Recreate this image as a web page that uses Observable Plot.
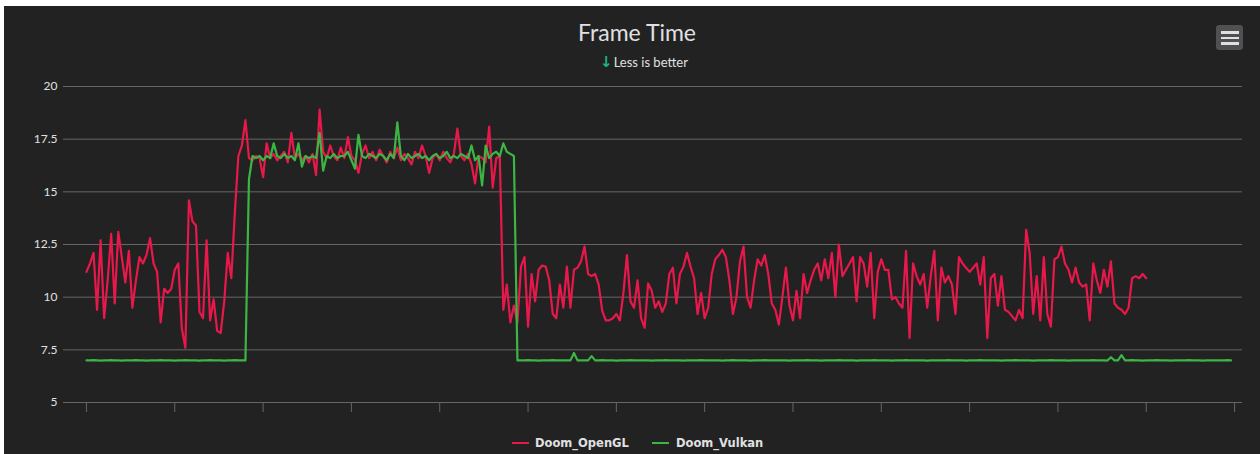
<!DOCTYPE html>
<html><head><meta charset="utf-8">
<script src="https://cdn.jsdelivr.net/npm/d3@7"></script>
<script src="https://cdn.jsdelivr.net/npm/@observablehq/plot@0.6"></script>
<style>
body{margin:0;background:#ffffff;width:1260px;height:454px;overflow:hidden;position:relative;font-family:Lato,"DejaVu Sans",sans-serif}
#bg{position:absolute;left:4px;top:6px;width:1256px;height:448px;background:#222222}
#title{position:absolute;left:437px;width:400px;top:21px;text-align:center;color:#E0E0E3;font-size:23px;line-height:23px;white-space:nowrap}
#subtitle{position:absolute;left:444px;width:400px;top:56px;text-align:center;color:#E0E0E3;font-size:13px;line-height:13px;white-space:nowrap}
#subtitle .arr{color:#1db37f;font-weight:bold;font-family:"DejaVu Sans",sans-serif;font-size:15px;margin-right:1px}
#chart{position:absolute;left:0;top:70px}
.leg{position:absolute;top:437px;color:#E0E0E3;font-family:"DejaVu Sans",sans-serif;font-weight:bold;font-size:11.5px;line-height:12px;white-space:nowrap}
.sym{position:absolute;top:442px;width:17px;height:2px}
#menu{position:absolute;left:1216px;top:25px;width:27px;height:25px;background:#505053;border-radius:3px}
#menu div{position:absolute;left:5px;width:18px;height:2.5px;background:#E0E0E3}
</style></head>
<body>
<div id="bg"></div>
<div id="title"></div>
<div id="subtitle"></div>
<div id="menu"><div style="top:6px"></div><div style="top:11.5px"></div><div style="top:17px"></div></div>
<div id="chart"></div>
<div id="legend"></div>
<script>
const chartTitle = "Frame Time";
const chartSubtitle = "Less is better";
const seriesNames = ["Doom_OpenGL", "Doom_Vulkan"];
const seriesColors = ["#e8184b", "#3db544"];
const sampleStep = 4;
const yTicks = [5, 7.5, 10, 12.5, 15, 17.5, 20];
const xTicks = [0,100,200,300,400,500,600,700,800,900,1000,1100,1200,1300];

const openglValues = [
11.2,11.6,12.1,9.4,12.7,9.0,10.8,13.0,9.7,13.1,11.9,10.7,12.2,9.5,10.8,11.9,11.6,12.0,12.8,11.6,
11.2,8.8,10.4,10.2,10.4,11.3,11.6,8.5,7.6,14.6,13.6,13.4,9.3,9.0,12.7,8.9,9.9,8.4,8.3,9.8,
12.1,10.9,14.0,
16.7,17.2,18.4,16.6,16.5,16.7,16.6,15.7,17.3,16.6,16.8,16.5,16.7,16.9,16.4,17.8,16.6,16.8,16.5,16.7,
16.4,16.8,15.8,18.9,16.9,16.6,17.2,16.7,16.5,17.1,16.6,17.6,16.7,16.5,15.9,16.8,17.2,16.6,16.9,16.5,
17.0,16.7,16.4,16.9,16.6,17.1,16.5,16.8,16.6,16.3,16.9,16.6,17.2,16.7,15.9,16.6,16.8,16.5,16.9,16.6,
16.4,16.8,18.0,16.7,16.5,16.8,16.3,15.4,16.7,16.6,16.4,18.1,15.2,16.6,16.7,
9.4,10.6,8.8,9.6,8.8,11.45,11.9,8.6,11.1,9.8,
11.3,11.5,11.45,10.8,9.2,9.0,10.6,9.5,11.45,9.5,
11.3,11.4,11.7,12.4,11.1,11.0,11.1,10.6,9.35,8.9,
8.9,9.0,9.2,8.9,10.2,12.0,9.8,9.5,10.8,9.0,
8.55,10.65,10.3,9.5,9.8,9.3,9.7,11.1,11.4,9.7,
11.1,11.45,12.1,11.45,10.9,9.2,10.2,9.0,9.5,11.1,
11.8,12.0,12.25,11.9,10.8,9.2,10.0,11.7,12.4,10.0,
9.5,10.8,11.8,11.5,12.0,11.1,9.7,9.4,8.7,10.0,
11.4,9.6,8.9,10.3,9.0,11.1,10.2,10.8,11.3,11.6,
10.8,11.8,10.9,12.1,10.0,12.5,11.0,11.3,11.6,11.9,
9.8,11.9,11.6,10.5,12.1,9.0,11.2,11.8,11.3,11.3,
9.9,10.0,9.7,9.5,12.2,8.06,11.6,11.0,10.6,11.1,
9.5,11.0,12.2,8.9,11.4,10.7,11.0,10.6,9.2,11.9,
11.6,11.4,11.2,11.4,11.6,10.6,11.9,8.06,10.9,11.1,
9.6,11.0,9.4,9.3,9.1,8.9,9.4,9.0,13.2,12.1,
9.2,11.0,8.9,11.9,9.2,8.6,11.8,11.9,12.4,11.6,
11.3,10.7,11.4,10.7,10.5,10.6,8.9,11.6,10.8,10.2,
11.3,10.5,11.7,9.7,9.5,9.4,9.2,9.5,10.9,11.0,
10.9,11.1,10.9
];

const vulkanValues = [
7,7,7.01,7,6.99,7,7,7.01,7,7,6.99,7,7,7,7.01,7,7,6.99,7,7,7,7.01,7,
7,7,6.99,7,7,7.01,7,7,7,6.99,7,7,7.01,7,7,7,6.99,7,7,7.01,7,7,7,
15.6,
16.7,16.6,16.7,16.5,16.7,16.6,17.3,16.7,16.6,16.8,
16.6,16.7,16.5,17.3,16.2,16.7,16.6,16.7,16.6,17.8,
16.0,16.7,16.6,16.8,16.6,16.7,16.7,16.9,16.5,16.1,
17.7,16.7,16.6,16.8,16.7,16.6,16.8,16.7,16.5,16.8,
16.6,18.3,16.7,16.5,16.8,16.6,16.7,16.8,16.6,16.7,
16.5,16.7,16.8,16.6,16.7,16.9,16.6,16.7,16.6,16.8,
16.7,16.6,17.2,16.5,16.7,15.3,17.2,16.6,16.8,16.9,
16.7,17.3,16.9,16.8,16.7,
7,7,7,7.01,7,7,6.99,7,7,7,7.01,7,7,7,7,7,7.35,7,7,7,
7,7.2,7,7,7.01,7,7,7,6.99,7,7,7,7.01,7,7,7,7,7,6.99,7,
7,7,7.01,7,7,7,7,6.99,7,7,7,7,7.01,7,7,7,7,7,6.99,7,
7,7.01,7,7,7,7,6.99,7,7,7,7.01,7,7,7,7,7,7,6.99,7,7,
7,7,7.01,7,7,7,6.99,7,7,7,7,7.01,7,7,7,7,6.99,7,7,7,
7,7.01,7,7,7,7,6.99,7,7,7,7.01,7,7,7,7,7,6.99,7,7,7,
7,7,7.01,7,7,7,7,6.99,7,7,7,7.01,7,7,7,7,7,6.99,7,7,
7,7.01,7,7,7,7,6.99,7,7,7,7,7.01,7,7,7,7,6.99,7,7,7,
7,7,7,7.01,7,7,7,6.99,7.15,7,7,7.25,7,7,7.01,7,7,6.99,7,7,
7,7.01,7,7,7,6.99,7,7,7,7,7.01,7,7,7,6.99,7,7,7,7,7,
7,7.01,7
];

document.getElementById("title").textContent = chartTitle;
document.getElementById("subtitle").innerHTML = '<span class="arr">\u2193</span>' + chartSubtitle;

const toRows = (vals) => vals.map((v, i) => ({frame: i * sampleStep, ms: v}));
const opengl = toRows(openglValues);
const vulkan = toRows(vulkanValues);

const plot = Plot.plot({
  width: 1260, height: 350,
  marginLeft: 63, marginRight: 18, marginTop: 16, marginBottom: 18,
  x: {domain: [-26, 1309], label: null},
  y: {domain: [5, 20], label: null},
  style: {background: "transparent", color: "#E0E0E3", fontFamily: "Lato, sans-serif", fontSize: "12px"},
  marks: [
    Plot.gridY(yTicks, {stroke: "#666666", strokeOpacity: 1, strokeWidth: 1}),
    Plot.axisY(yTicks, {tickSize: 0, tickPadding: 6, tickFormat: d => String(d), label: null}),
    Plot.axisX(xTicks, {tickSize: 10, tickFormat: () => "", stroke: "#666666", strokeOpacity: 1, label: null}),
    Plot.lineY(opengl, {x: "frame", y: "ms", stroke: seriesColors[0], strokeWidth: 2.2}),
    Plot.lineY(vulkan, {x: "frame", y: "ms", stroke: seriesColors[1], strokeWidth: 2.2})
  ]
});
document.getElementById("chart").appendChild(plot);

const legend = document.getElementById("legend");
const legPos = [{sym: 512, text: 535}, {sym: 652, text: 676}];
seriesNames.forEach((name, k) => {
  const s = document.createElement("div");
  s.className = "sym"; s.style.left = legPos[k].sym + "px"; s.style.background = seriesColors[k];
  legend.appendChild(s);
  const t = document.createElement("div");
  t.className = "leg"; t.style.left = legPos[k].text + "px"; t.textContent = name;
  legend.appendChild(t);
});
</script>
</body></html>
